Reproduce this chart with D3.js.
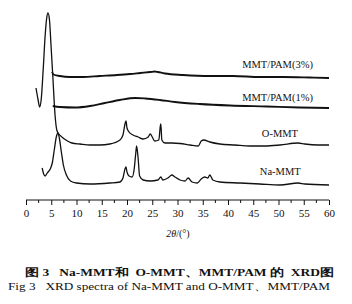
<!DOCTYPE html>
<html>
<head>
<meta charset="utf-8">
<script src="https://cdn.jsdelivr.net/npm/d3@7"></script>
<style>
  body { margin: 0; background: #fff; }
  text { font-family: "Liberation Serif", "Times New Roman", serif; fill: #111; }
  .cap { white-space: pre; }
</style>
</head>
<body>
<svg id="chart" width="352" height="304"></svg>
<script>

// XRD patterns, [2theta (deg), intensity (a.u., stacked offset included)]
var mmtPam3 = [
  [5.15,128],[5.45,125.5],[6.7,124],[8.7,123],[11.3,123],[14.6,124],[18.0,125],[20.6,126],
  [22.6,127],[24.6,128],[25.5,128.5],[26.1,128],[27.5,126.5],[31.1,125],[36.4,124],[41.0,124],
  [46.3,123],[50.9,123],[56.2,122.5],[60,122]
];

var mmtPam1 = [
  [5.3,94],[6.7,93],[9.7,92.5],[12.7,94],[15.6,97],[18.6,100],[21.6,102],[23.6,101.5],
  [26.5,100],[29.5,98],[34.4,96],[40.4,94.5],[47.7,93.5],[54.2,92.5],[60,92]
];

var oMMT = [
  [1.98,112],[2.4,100],[2.7,93],[3.0,100],[3.4,130],[3.8,165],[4.1,182],[4.35,187],
  [4.65,180],[4.95,155],[5.35,120],[5.75,85],[6.1,70],[6.5,66],[7.1,63],[7.9,60],
  [9.1,57],[10.7,56],[12.7,55],[14.6,55],[16.6,56],[18.6,60],[19.2,65],[19.6,76],
  [19.8,79],[20.0,72],[20.4,68],[21.2,65],[22.2,63],[23.2,61],[24.2,63],[24.6,66],
  [25.0,63],[25.5,59],[26.3,60],[26.6,74],[26.7,76],[26.9,60],[27.5,57],[28.9,57],
  [30.5,56.5],[32.5,55],[34.1,54],[34.7,59],[35.2,60],[36.4,58],[38.4,56],[41.4,55],
  [44.3,54],[47.3,54],[50.3,55],[53.9,57],[55.2,56],[57.8,55],[60,55]
];

var naMMT = [
  [3.2,32],[3.5,26],[3.8,24],[4.2,27],[4.8,31],[5.2,37],[5.6,50],[6.0,63],[6.3,67],
  [6.6,62],[7.0,48],[7.4,35],[8.0,25],[8.8,19],[10.0,17],[12.7,16],[16.6,17],[18.6,18],
  [19.2,22],[19.6,31],[19.8,33],[20.0,28],[20.4,24],[21.0,23],[21.4,30],[21.7,45],
  [21.9,54],[22.2,42],[22.5,24],[23.2,20],[24.6,19],[26.1,20],[26.7,23],[27.1,20],
  [28.1,22],[28.9,25],[29.5,23],[30.5,20],[31.5,19],[32.1,22],[32.9,18],[33.9,17],
  [34.7,21],[35.4,23],[36.0,22],[36.4,25],[37.0,20],[38.4,18],[42.4,17],[46.3,16],
  [50.3,15],[53.9,17],[55.2,16],[60,15]
];

var seriesNames = ["MMT/PAM(3%)", "MMT/PAM(1%)", "O-MMT", "Na-MMT"];
var seriesData = [mmtPam3, mmtPam1, oMMT, naMMT];

var majorTicks = [0,5,10,15,20,25,30,35,40,45,50,55,60];
var minorTicks = [2.5,7.5,12.5,17.5,22.5,27.5,32.5,37.5,42.5,47.5,52.5,57.5];

var captionCn = "图 3   Na-MMT和  O-MMT、MMT/PAM 的  XRD图";
var captionEn = "Fig 3   XRD spectra of Na-MMT and O-MMT、MMT/PAM";


var svg = d3.select("#chart");

var x = d3.scaleLinear().domain([0, 60]).range([26, 329]);
var y = d3.scaleLinear().domain([0, 190]).range([200, 10]);

var line = d3.line()
  .x(function(d) { return x(d[0]); })
  .y(function(d) { return y(d[1]); })
  .curve(d3.curveMonotoneX);

// curves
svg.selectAll(".xrd")
  .data(seriesData)
  .enter().append("path")
  .attr("class", "xrd")
  .attr("d", line)
  .attr("fill", "none")
  .attr("stroke", "#111")
  .attr("stroke-linejoin", "round")
  .attr("stroke-width", function(d, i) { return i < 2 ? 1.8 : 1.3; });

// curve labels (start x in 2theta, baseline in intensity units)
var labelPos = [[42.8, 132], [42.8, 99], [46.7, 63], [46.3, 25]];
svg.selectAll(".lbl")
  .data(seriesNames)
  .enter().append("text")
  .attr("class", "lbl")
  .attr("x", function(d, i) { return x(labelPos[i][0]); })
  .attr("y", function(d, i) { return y(labelPos[i][1]); })
  .attr("font-size", "10.5px")
  .text(function(d) { return d; });

// x axis, ticks pointing down
var xAxis = d3.axisBottom(x)
  .tickValues(majorTicks)
  .tickSize(5)
  .tickPadding(4)
  .tickFormat(d3.format("d"));

var gx = svg.append("g")
  .attr("transform", "translate(0," + y(0) + ")")
  .call(xAxis);
gx.select(".domain").attr("d", "M" + x(0) + ",0H" + x(60)).attr("stroke", "#111");
gx.selectAll(".tick line").attr("stroke", "#111");
gx.selectAll(".tick text")
  .attr("font-size", "11px")
  .attr("font-family", "Liberation Serif, serif")
  .attr("fill", "#111");

gx.selectAll(".minor")
  .data(minorTicks)
  .enter().append("line")
  .attr("class", "minor")
  .attr("x1", function(d) { return x(d); })
  .attr("x2", function(d) { return x(d); })
  .attr("y1", 0)
  .attr("y2", 3)
  .attr("stroke", "#111");

// axis title
var title = svg.append("text")
  .attr("x", 178)
  .attr("y", 237)
  .attr("text-anchor", "middle")
  .attr("font-size", "10px");
title.append("tspan").attr("font-style", "italic").text("2θ");
title.append("tspan").text("/(°)");

// captions
svg.append("text")
  .attr("class", "cap")
  .attr("x", 25)
  .attr("y", 276)
  .attr("font-size", "10.5px")
  .attr("font-weight", "bold")
  .attr("textLength", 309)
  .attr("lengthAdjust", "spacingAndGlyphs")
  .text(captionCn);

svg.append("text")
  .attr("class", "cap")
  .attr("x", 8)
  .attr("y", 290)
  .attr("font-size", "10.5px")
  .attr("textLength", 322)
  .attr("lengthAdjust", "spacingAndGlyphs")
  .text(captionEn);

</script>
</body>
</html>
